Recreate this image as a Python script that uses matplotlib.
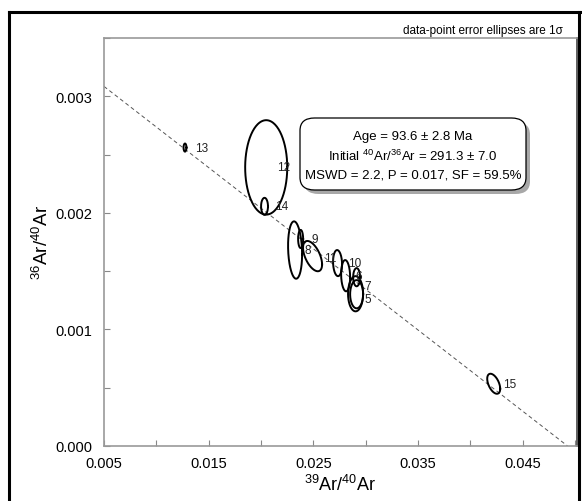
import numpy as np
import matplotlib
matplotlib.use('Agg')
import matplotlib.pyplot as plt
from matplotlib.patches import FancyBboxPatch
from matplotlib.lines import Line2D

plt.rcParams['font.family'] = ['Liberation Sans', 'DejaVu Sans']
plt.rcParams['mathtext.fontset'] = 'custom'
plt.rcParams['mathtext.rm'] = 'Liberation Sans'
plt.rcParams['mathtext.it'] = 'Liberation Sans:italic'

# step data: 39Ar/40Ar, 36Ar/40Ar, 1 sigma errors, error correlation
labels = ['12', '13', '14', '8', '9', '11', '10', '6', '', '7', '5', '15']
x39_40 = [0.0205, 0.01274, 0.02034, 0.02326, 0.02379, 0.02493, 0.02732,
          0.02809, 0.02914, 0.02904, 0.02914, 0.04224]
y36_40 = [0.00239, 0.00256, 0.002056, 0.001681, 0.001776, 0.001629, 0.001569,
          0.001461, 0.001448, 0.001306, 0.001302, 0.000534]
sig_x = [0.00201, 0.00014, 0.00033, 0.00067, 0.00024, 0.00091, 0.00043,
         0.00043, 0.00033, 0.00072, 0.00062, 0.00062]
sig_y = [0.000405, 0.000035, 0.000073, 0.000246, 0.000078, 0.00013, 0.000112,
         0.000134, 0.000078, 0.000151, 0.000121, 0.000086]
rho = [0.0, 0.0, 0.0, -0.15, 0.0, -0.55, -0.1, -0.1, 0.0, 0.0, 0.0, -0.5]

# isochron fit
initial_40_36 = 291.3
x_intercept = 0.0493

# label offsets from the right edge of each ellipse (points)
label_offset = {'12': (-7.2, 0), '13': (6, 0), '14': (5, 0), '8': (1.5, 0),
                '9': (5.8, 0), '11': (1.5, -1.5), '10': (4.3, 0), '6': (3.6, 0),
                '7': (0.7, 5.5), '5': (0.7, -3.5), '15': (2.2, 0)}

fig = plt.figure(figsize=(5.82, 5.02), dpi=100)
W, H = 582.0, 502.0
ax = fig.add_axes([104 / W, 1 - 447 / H, (577 - 104) / W, (447 - 39) / H])

# outer frame
for xs, ys in [([9, 9], [13, 510]), ([9, 590], [13, 13]), ([579, 579], [13, 510])]:
    fig.add_artist(Line2D([v / W for v in xs], [1 - v / H for v in ys],
                          color='black', lw=2.2, transform=fig.transFigure))

# regression line
y0 = 1.0 / initial_40_36
xl = np.array([0.005, x_intercept])
ax.plot(xl, y0 * (1 - xl / x_intercept), ls=(0, (4, 3)), color='#555555', lw=0.7)

t = np.linspace(0, 2 * np.pi, 200)
for lab, cx, cy, sx, sy, r in zip(labels, x39_40, y36_40, sig_x, sig_y, rho):
    ex = cx + sx * np.cos(t)
    ey = cy + sy * (r * np.cos(t) + np.sqrt(1 - r * r) * np.sin(t))
    ax.plot(ex, ey, color='black', lw=1.4)
    if lab:
        ax.annotate(lab, xy=(cx + sx, cy), xytext=label_offset.get(lab, (3, 0)),
                    textcoords='offset points', fontsize=8.5,
                    va='center', ha='left', color='#222222')

ax.set_xlim(0.005, 0.0502)
ax.set_ylim(0, 0.0035)
xt = np.arange(0.005, 0.0501, 0.005)
yt = np.arange(0, 0.00351, 0.0005)
ax.set_xticks(xt)
ax.set_xticklabels(['%.3f' % v if i % 2 == 0 else '' for i, v in enumerate(xt)])
ax.set_yticks(yt)
ax.set_yticklabels(['%.3f' % v if i % 2 == 0 else '' for i, v in enumerate(yt)])
ax.tick_params(direction='in', length=4, width=0.8, color='#888888', labelsize=10.5)
ax.tick_params(axis='y', pad=8.5)
ax.tick_params(axis='x', pad=7)
for s in ax.spines.values():
    s.set_color('#999999')
    s.set_linewidth(1.2)
ax.spines['right'].set_color('#444444')

ax.set_xlabel('$^{39}$Ar/$^{40}$Ar', fontsize=13, labelpad=3)
ax.set_ylabel('$^{36}$Ar/$^{40}$Ar', fontsize=13.5, labelpad=2)

fig.text(563 / W, 1 - 31 / H, 'data-point error ellipses are 1\u03c3',
         fontsize=8.5, ha='right', va='center')

# result box with shadow
bx0, bx1, by0, by1 = 300, 526, 119, 191
shadow = FancyBboxPatch(((bx0 + 4) / W, 1 - (by1 + 4) / H), (bx1 - bx0) / W,
                        (by1 - by0) / H, boxstyle='round,pad=0,rounding_size=0.025',
                        transform=fig.transFigure, fc='#a8a8a8', ec='none')
box = FancyBboxPatch((bx0 / W, 1 - by1 / H), (bx1 - bx0) / W, (by1 - by0) / H,
                     boxstyle='round,pad=0,rounding_size=0.025',
                     transform=fig.transFigure, fc='white', ec='black', lw=0.9)
fig.add_artist(shadow)
fig.add_artist(box)
cxb = (bx0 + bx1) / 2 / W
lines = ['Age = 93.6 \u00b1 2.8 Ma',
         'Initial $^{40}$Ar/$^{36}$Ar = 291.3 \u00b1 7.0',
         'MSWD = 2.2, P = 0.017, SF = 59.5%']
for i, s in enumerate(lines):
    fig.text(cxb, 1 - (137 + 19 * i) / H, s, fontsize=9.5, ha='center', va='center')

fig.savefig('out.png', dpi=100, facecolor='white')
